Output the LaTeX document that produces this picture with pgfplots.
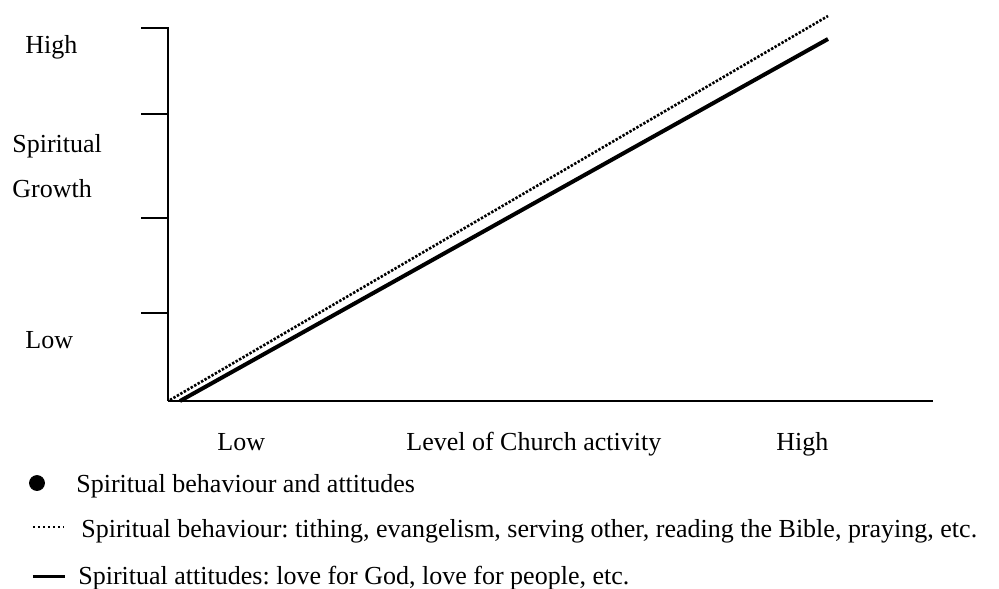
\documentclass[border=0pt]{standalone}
\usepackage{pgfplots}
\pgfplotsset{compat=1.18}
\usepackage{fontspec}
\setmainfont{Liberation Serif}
\tikzset{lbl/.style={font=\fontsize{13}{15}\selectfont, inner sep=0pt, anchor=base west}}
\frenchspacing
\begin{document}
\frenchspacing
\begin{tikzpicture}
\begin{axis}[
  scale only axis,
  width=382.5pt, height=187pt,
  xmin=0, xmax=765, ymin=0, ymax=374,
  axis lines=left,
  axis line style={-, line width=1pt, black},
  every outer x axis line/.append style={-},
  every outer y axis line/.append style={-},
  xtick=\empty,
  ytick={88,183,287,373},
  yticklabels={},
  tick align=outside,
  major tick length=13.5pt,
  tick style={line width=1pt, black},
  clip=false,
]
% data lines
\addplot[black, line width=2pt, line cap=butt] coordinates {(12,0) (660,362)};
\addplot[black, line width=1.3pt, line cap=butt, dash pattern=on 1.2pt off 0.8pt] coordinates {(2,1) (660,385)};

% y axis labels
\node[lbl] at (axis cs:-143,347) {High};
\node[lbl] at (axis cs:-156,249) {Spiritual};
\node[lbl] at (axis cs:-156,204) {Growth};
\node[lbl] at (axis cs:-143,53) {Low};

% x axis labels
\node[lbl] at (axis cs:49,-49) {Low};
\node[lbl] at (axis cs:238,-49) {Level of Church activity};
\node[lbl] at (axis cs:608,-49) {High};

% legend samples
\addplot[only marks, mark=*, mark size=3.75pt, black] coordinates {(-131,-82)};
\addplot[black, line width=1pt, line cap=butt, dash pattern=on 0.9pt off 1.6pt] coordinates {(-135,-126) (-104,-126)};
\addplot[black, line width=1.5pt, line cap=butt] coordinates {(-135,-175) (-103,-175)};

\node[lbl] at (axis cs:-92,-91) {Spiritual behaviour and attitudes};
\node[lbl] at (axis cs:-87,-136) {Spiritual behaviour: tithing, evangelism, serving other, reading the Bible, praying, etc.};
\node[lbl] at (axis cs:-90,-183) {Spiritual attitudes: love for God, love for people, etc.};

\coordinate (BL) at (axis cs:-168,-187);
\coordinate (TR) at (axis cs:831,401);
\end{axis}
\pgfresetboundingbox
\useasboundingbox (BL) rectangle (TR);
\end{tikzpicture}
\end{document}
